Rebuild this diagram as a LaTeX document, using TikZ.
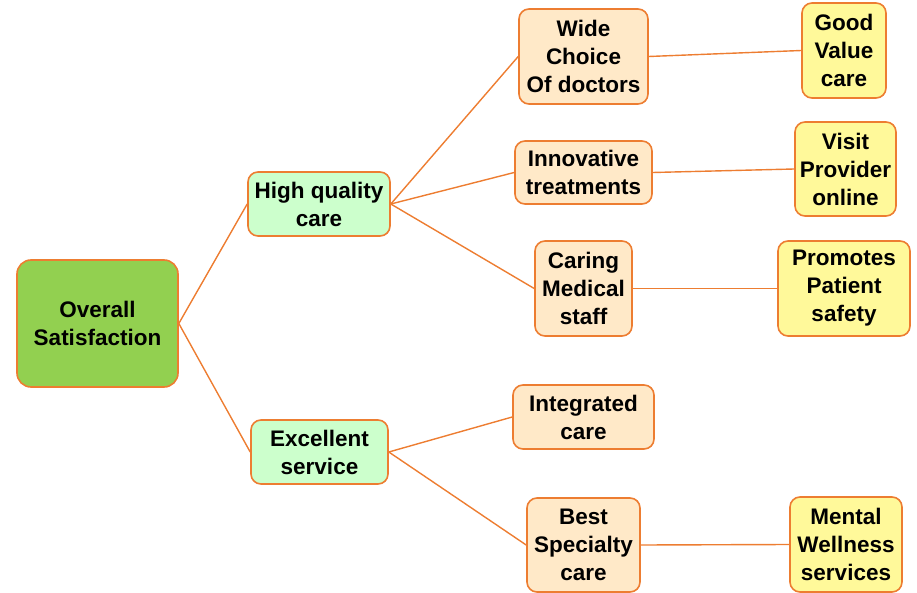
\documentclass[tikz,border=0pt]{standalone}
\usepackage{fontspec}
\setmainfont{Liberation Sans}
\definecolor{edge}{HTML}{ED7D31}
\definecolor{rootfill}{HTML}{92D050}
\definecolor{midfill}{HTML}{CCFFCC}
\definecolor{leaffill}{HTML}{FFE9C8}
\definecolor{endfill}{HTML}{FFF99A}
\tikzset{
  box/.style={draw=edge, line width=1.6pt, rounded corners=10pt, align=center,
    inner sep=0pt, font=\fontsize{22.5}{28}\selectfont\bfseries, text=black},
  rootbox/.style={box, fill=rootfill, rounded corners=14pt},
  midbox/.style={box, fill=midfill},
  leafbox/.style={box, fill=leaffill},
  endbox/.style={box, fill=endfill},
  link/.style={draw=edge, line width=1.4pt}
}
\begin{document}
\begin{tikzpicture}[x=1pt, y=-1pt]
\useasboundingbox (0,0) rectangle (917,593);

% root
\node[rootbox, minimum width=161pt, minimum height=127pt] (root) at (97.5,323.5) {Overall\\Satisfaction};

% second level
\node[midbox, minimum width=142pt, minimum height=64pt] (high) at (319,204) {High quality\\care};
\node[midbox, minimum width=137pt, minimum height=64pt] (excel) at (319.5,452) {Excellent\\service};

% third level
\node[leafbox, minimum width=129pt, minimum height=95pt] (wide) at (583.5,56.5) {Wide\\Choice\\Of doctors};
\node[leafbox, minimum width=137pt, minimum height=63pt] (innov) at (583.5,172.5) {Innovative\\treatments};
\node[leafbox, minimum width=97pt, minimum height=95pt] (caring) at (583.5,288.5) {Caring\\Medical\\staff};
\node[leafbox, minimum width=141pt, minimum height=64pt] (integ) at (583.5,417) {Integrated\\care};
\node[leafbox, minimum width=113pt, minimum height=94pt] (best) at (583.5,545) {Best\\Specialty\\care};

% fourth level
\node[endbox, minimum width=84pt, minimum height=95pt] (good) at (844,50.5) {Good\\Value\\care};
\node[endbox, minimum width=101pt, minimum height=94pt] (visit) at (845.5,169) {Visit\\Provider\\online};
\node[endbox, minimum width=132pt, minimum height=95pt] (promo) at (844,288.5) {Promotes\\Patient\\safety};
\node[endbox, minimum width=112pt, minimum height=95pt] (mental) at (846,544.5) {Mental\\Wellness\\services};

% connectors
\draw[link] (root.east) -- (high.west);
\draw[link] (root.east) -- (excel.west);
\draw[link] (high.east) -- (wide.west);
\draw[link] (high.east) -- (innov.west);
\draw[link] (high.east) -- (caring.west);
\draw[link] (excel.east) -- (integ.west);
\draw[link] (excel.east) -- (best.west);
\draw[link] (wide.east) -- (good.west);
\draw[link] (innov.east) -- (visit.west);
\draw[link] (caring.east) -- (promo.west);
\draw[link] (best.east) -- (mental.west);
\end{tikzpicture}
\end{document}
